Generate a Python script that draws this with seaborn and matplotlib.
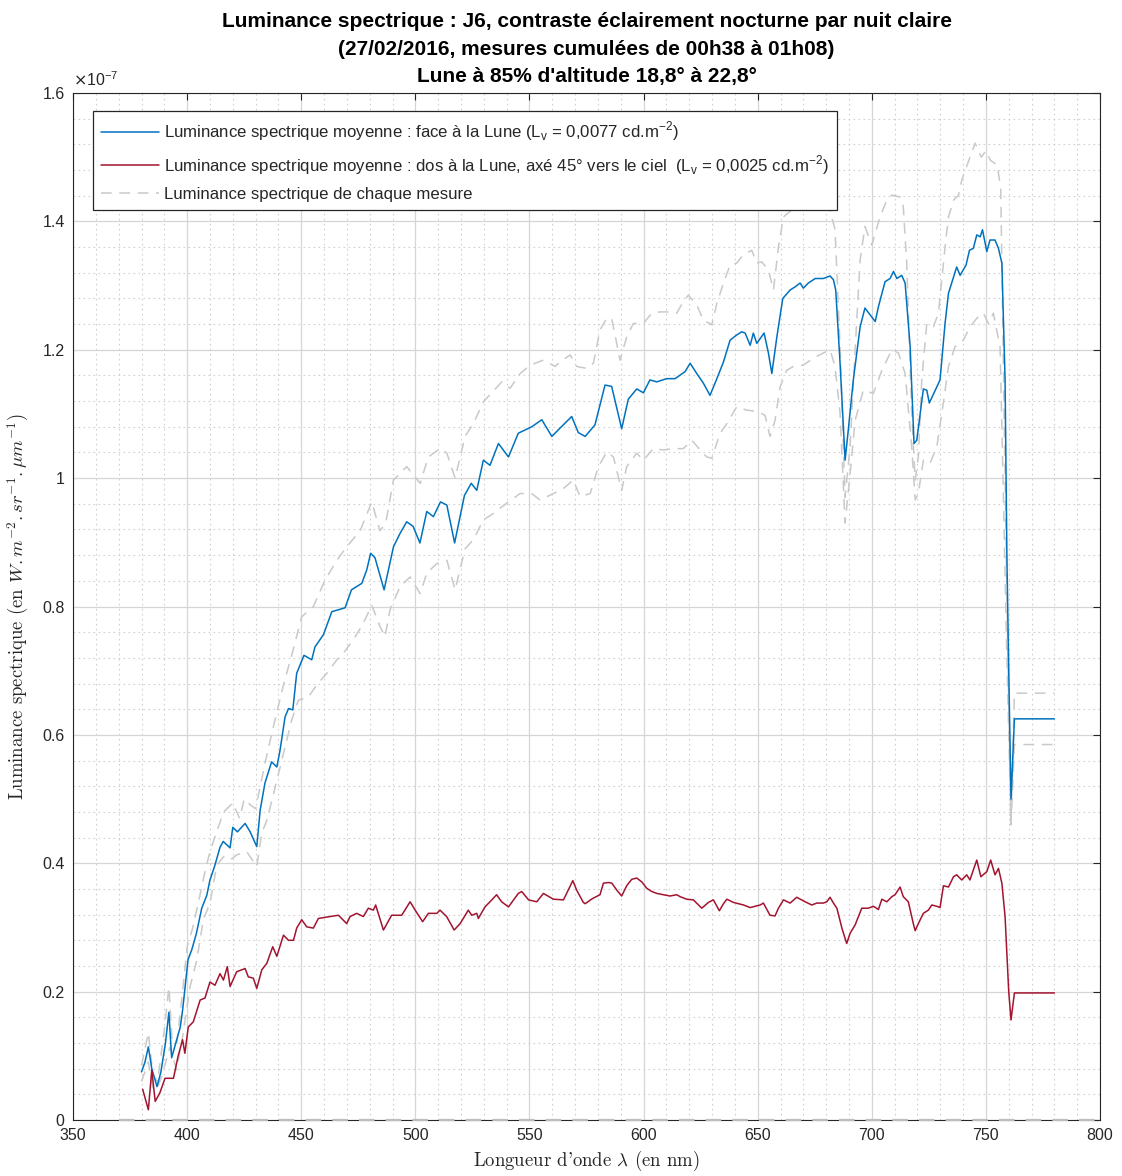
import numpy as np
import pandas as pd
import seaborn as sns
import matplotlib
matplotlib.use("Agg")
import matplotlib.pyplot as plt
from matplotlib.ticker import MultipleLocator, FuncFormatter
from matplotlib.lines import Line2D

SCALE = 1e-7  # values below are in units of 1e-7 W.m-2.sr-1.um-1

blue_x = [380, 381.5, 383, 384.5, 386.8, 388.5, 390.5, 392, 393.2, 395, 397, 398, 400.4, 402, 404, 406.4,
          408.6, 410, 412, 414.4, 415.8, 418.8, 420, 422, 425.4, 427.6, 430.5, 432, 434.1, 437, 439.3,
          440.7, 442.9, 444.4, 446.3, 448, 451.2, 454.6, 456, 459.7, 463.4, 466.3, 469.2, 472, 476.5,
          478.7, 480.4, 482.3, 486.3, 488.2, 490.4, 493.3, 496.2, 499, 502, 505, 507.9, 511, 513.8,
          517.2, 519, 521.5, 524.5, 526.9, 529.8, 532.7, 536.4, 540.8, 545.1, 551, 555.4, 559.8, 563.4,
          568.5, 571.4, 574.4, 578.7, 583.1, 586, 590.4, 593.3, 597, 599.9, 602.8, 605.8, 610.1, 613.8,
          618.2, 620.4, 623.3, 626.2, 629.1, 632, 635, 637.9, 640.8, 643, 644.5, 646.7, 648.1, 649.6,
          652.8, 654.7, 656.2, 658.4, 661, 664.2, 666.4, 668.6, 670, 672.2, 675.2, 678.8, 681.7, 683.2,
          684.2, 686.1, 688.3, 689.7, 691.9, 694.9, 697, 701.5, 702.9, 705.8, 708, 709.5, 711, 713.1,
          714.6, 716.8, 718.5, 719.7, 722.6, 724.1, 725.2, 729.9, 732.1, 733.6, 737.2, 738.7, 741.3,
          742.8, 744.5, 746, 747.5, 748.5, 750.4, 751.8, 754, 755.5, 757, 758.4, 759.2, 760, 761,
          762.5, 780]
blue_y = [0.075, 0.09, 0.114, 0.08, 0.052, 0.075, 0.12, 0.168, 0.097, 0.12, 0.145, 0.171, 0.25, 0.265,
          0.29, 0.33, 0.35, 0.374, 0.395, 0.425, 0.434, 0.424, 0.456, 0.449, 0.462, 0.449, 0.426, 0.483,
          0.525, 0.558, 0.55, 0.576, 0.628, 0.641, 0.639, 0.696, 0.724, 0.717, 0.737, 0.756, 0.792,
          0.795, 0.798, 0.826, 0.836, 0.857, 0.883, 0.876, 0.826, 0.857, 0.893, 0.914, 0.932, 0.925,
          0.899, 0.948, 0.940, 0.963, 0.958, 0.899, 0.93, 0.973, 0.992, 0.981, 1.028, 1.020, 1.054,
          1.033, 1.070, 1.080, 1.091, 1.065, 1.078, 1.096, 1.071, 1.065, 1.083, 1.145, 1.143, 1.077,
          1.123, 1.139, 1.133, 1.153, 1.150, 1.155, 1.155, 1.166, 1.179, 1.163, 1.148, 1.129, 1.154,
          1.181, 1.215, 1.223, 1.228, 1.226, 1.207, 1.226, 1.210, 1.226, 1.195, 1.163, 1.220, 1.280,
          1.293, 1.298, 1.304, 1.296, 1.304, 1.311, 1.311, 1.315, 1.309, 1.293, 1.179, 1.028, 1.075,
          1.153, 1.236, 1.265, 1.244, 1.267, 1.306, 1.311, 1.322, 1.311, 1.316, 1.304, 1.205, 1.054,
          1.059, 1.139, 1.137, 1.117, 1.153, 1.241, 1.288, 1.329, 1.316, 1.332, 1.355, 1.358, 1.379,
          1.376, 1.387, 1.353, 1.371, 1.371, 1.358, 1.335, 1.153, 0.878, 0.70, 0.50, 0.625, 0.625]

red_x = [380.5, 383, 384.5, 386, 388, 390.3, 394, 396, 398, 399, 400.5, 402.7, 405.7, 407.8, 410, 412.2,
         414.4, 415.9, 417.6, 418.8, 421.7, 425.4, 426.8, 429, 430.5, 432.7, 434.9, 437.5, 439.3, 442.2,
         444.4, 446.6, 448, 450.2, 452.4, 455.3, 457.5, 462.6, 466.3, 469.9, 471.4, 474.3, 477.2, 479.4,
         481.6, 482.6, 486, 489.6, 494, 497.7, 499.9, 503.2, 505.7, 509.4, 510.8, 513.7, 517, 519.6,
         521, 523.2, 524.7, 526.9, 527.6, 530.5, 532.7, 535.6, 537.8, 540.8, 545.1, 546.6, 549.6, 553.2,
         556.1, 560.5, 564.9, 569, 570.7, 573.6, 574.4, 577.6, 580.9, 582.4, 584.6, 586.1, 588.3, 590.4,
         592.6, 594.8, 597, 599.2, 601.4, 603.6, 605.8, 608.7, 611.6, 614.5, 616, 618.9, 621.8, 625.5,
         628.4, 630.6, 633.2, 635, 636.5, 639.4, 643.8, 646.7, 651.1, 652.5, 655.4, 657.6, 659.1, 661.3,
         664.2, 667.1, 670.8, 673.7, 675.9, 678.8, 680.3, 681.7, 683.2, 684.7, 686.9, 689, 690.5, 692.7,
         695.6, 698.5, 700.7, 702.9, 704.4, 706.6, 708.8, 710.2, 712.4, 713.8, 716, 718.2, 719, 720.4,
         722.6, 724.8, 726.3, 728.5, 729.9, 731.4, 733.6, 735.8, 737.2, 739.4, 741.6, 743, 746, 747.8,
         750.4, 752.1, 754, 755.5, 757, 758.4, 760, 761, 762.5, 780]
red_y = [0.048, 0.016, 0.078, 0.029, 0.042, 0.065, 0.065, 0.099, 0.125, 0.104, 0.145, 0.153, 0.187, 0.19,
         0.215, 0.21, 0.228, 0.218, 0.239, 0.208, 0.231, 0.236, 0.223, 0.221, 0.205, 0.234, 0.244, 0.27,
         0.255, 0.288, 0.28, 0.28, 0.299, 0.312, 0.301, 0.299, 0.314, 0.317, 0.319, 0.306, 0.317, 0.322,
         0.317, 0.33, 0.327, 0.335, 0.296, 0.319, 0.319, 0.340, 0.327, 0.309, 0.322, 0.322, 0.327, 0.317,
         0.296, 0.306, 0.314, 0.327, 0.319, 0.322, 0.314, 0.332, 0.340, 0.351, 0.340, 0.332, 0.353,
         0.356, 0.343, 0.340, 0.353, 0.344, 0.343, 0.373, 0.358, 0.339, 0.337, 0.345, 0.351, 0.369,
         0.370, 0.369, 0.358, 0.349, 0.365, 0.375, 0.377, 0.371, 0.361, 0.356, 0.353, 0.351, 0.349,
         0.351, 0.348, 0.344, 0.343, 0.330, 0.339, 0.343, 0.326, 0.337, 0.344, 0.339, 0.335, 0.331,
         0.335, 0.338, 0.319, 0.318, 0.330, 0.343, 0.338, 0.347, 0.340, 0.335, 0.338, 0.338, 0.340,
         0.347, 0.338, 0.330, 0.299, 0.275, 0.291, 0.304, 0.330, 0.330, 0.333, 0.328, 0.344, 0.340,
         0.348, 0.351, 0.363, 0.348, 0.340, 0.306, 0.295, 0.306, 0.322, 0.327, 0.335, 0.333, 0.331,
         0.365, 0.363, 0.379, 0.382, 0.374, 0.382, 0.374, 0.405, 0.379, 0.387, 0.405, 0.382, 0.392,
         0.369, 0.317, 0.20, 0.156, 0.198, 0.198]

upper_x = [380, 383, 385, 387, 390, 392, 393.5, 395.5, 398, 400, 402.5, 405, 408, 410, 413, 416, 420, 423,
           425, 428, 430, 432, 435, 437.6, 442, 446.4, 450.2, 455.3, 460.4, 465.6, 469.9, 475.8, 480.9,
           484.5, 487, 490.4, 496.2, 502.1, 505.7, 510.8, 513.8, 517.4, 521.8, 525.4, 529.8, 537.9,
           541.5, 545.9, 550.3, 556.1, 561.2, 563.4, 567.8, 570.7, 575.1, 578, 580.9, 583.9, 586, 589.7,
           592.6, 595.5, 599.9, 603.6, 607.2, 610.1, 614.5, 617.4, 619.6, 623.3, 626.2, 629.9, 632.1,
           635, 637.9, 640.8, 643.7, 647.4, 649.6, 651.8, 654.7, 656.9, 659.1, 661.3, 665.7, 670, 675,
           680, 683.9, 686.1, 688.3, 690.5, 692.7, 694.9, 697, 700, 703.6, 706.6, 708.8, 712.4, 713.8,
           715.3, 717.5, 719, 720.4, 721.9, 724.1, 727, 729.2, 732.1, 733.6, 735.8, 738, 739.4, 742,
           745.3, 748, 750, 752, 755, 756.5, 758, 759.5, 761, 762.5, 780]
upper_y = [0.085, 0.136, 0.07, 0.06, 0.14, 0.207, 0.12, 0.12, 0.2, 0.27, 0.3, 0.34, 0.39, 0.418, 0.45,
           0.48, 0.494, 0.47, 0.5, 0.49, 0.485, 0.52, 0.57, 0.61, 0.675, 0.732, 0.784, 0.80, 0.841, 0.872,
           0.893, 0.918, 0.963, 0.918, 0.93, 0.997, 1.018, 0.992, 1.033, 1.046, 1.039, 1.0, 1.065, 1.085,
           1.119, 1.150, 1.140, 1.163, 1.176, 1.184, 1.174, 1.181, 1.192, 1.174, 1.171, 1.179, 1.231,
           1.249, 1.249, 1.184, 1.22, 1.241, 1.241, 1.257, 1.259, 1.259, 1.257, 1.275, 1.285, 1.27,
           1.246, 1.239, 1.272, 1.304, 1.332, 1.335, 1.348, 1.355, 1.335, 1.337, 1.324, 1.293, 1.360,
           1.407, 1.42, 1.43, 1.44, 1.44, 1.387, 1.205, 0.97, 1.05, 1.2, 1.34, 1.392, 1.363, 1.407, 1.433,
           1.441, 1.438, 1.423, 1.335, 1.101, 0.997, 1.033, 1.153, 1.241, 1.236, 1.257, 1.36, 1.407,
           1.433, 1.441, 1.464, 1.49, 1.522, 1.50, 1.51, 1.495, 1.488, 1.45, 1.1, 0.75, 0.46, 0.665, 0.665]

lower_x = [380, 383, 385, 386.7, 389, 392.5, 395.4, 398, 401.3, 404.2, 407.1, 410, 413, 415.9, 418.8,
           421.7, 426.1, 430.5, 432.7, 434.9, 438, 442.2, 445.8, 448.7, 453.1, 456.8, 461.2, 465.6,
           468.4, 472.8, 477.2, 480.9, 484.5, 486.7, 488.9, 493.3, 497.7, 502.1, 505, 509.4, 513.8,
           517.4, 521.8, 525.4, 529.8, 534.2, 540, 545.9, 551, 554.6, 560.5, 564.9, 569.2, 572.2, 576.6,
           580.2, 583.9, 586.8, 590.4, 592.6, 597, 599.9, 604.3, 608.7, 613.1, 617.4, 621.1, 624.8,
           627.7, 629.9, 633.5, 636.5, 640.8, 645.2, 649.6, 653.2, 655.4, 657.6, 659.8, 662.7, 665.6,
           670, 674.4, 678.8, 681.7, 683.9, 686.1, 688.3, 690.5, 692.7, 696.3, 700.7, 704.4, 708.8,
           711.7, 714.6, 717.5, 719, 720.4, 722.6, 725.5, 728.5, 730.7, 733.6, 736.5, 740.1, 743.1,
           746, 748.9, 751.1, 753.3, 754.7, 756.2, 757.5, 759, 761, 762.5, 780]
lower_y = [0.06, 0.09, 0.05, 0.047, 0.07, 0.114, 0.078, 0.13, 0.208, 0.249, 0.312, 0.338, 0.397, 0.41,
           0.405, 0.413, 0.418, 0.395, 0.447, 0.467, 0.51, 0.571, 0.623, 0.654, 0.659, 0.678, 0.696,
           0.717, 0.727, 0.748, 0.774, 0.802, 0.769, 0.753, 0.795, 0.831, 0.846, 0.820, 0.852, 0.867,
           0.872, 0.826, 0.89, 0.904, 0.935, 0.945, 0.961, 0.976, 0.976, 0.966, 0.976, 0.984, 0.997,
           0.971, 0.976, 1.018, 1.041, 1.033, 0.981, 1.018, 1.039, 1.028, 1.046, 1.044, 1.046, 1.046,
           1.059, 1.044, 1.033, 1.031, 1.07, 1.085, 1.111, 1.106, 1.104, 1.098, 1.065, 1.09, 1.142,
           1.168, 1.174, 1.176, 1.187, 1.195, 1.2, 1.174, 1.101, 0.93, 1.007, 1.09, 1.137, 1.132, 1.168,
           1.2, 1.195, 1.163, 1.049, 0.966, 0.976, 1.028, 1.023, 1.049, 1.101, 1.174, 1.205, 1.215,
           1.236, 1.249, 1.257, 1.241, 1.257, 1.231, 1.205, 1.0, 0.75, 0.46, 0.585, 0.585]

zero_x = [370, 800]
zero_y = [0, 0]

title = ("Luminance spectrique : J6, contraste éclairement nocturne par nuit claire\n"
         "(27/02/2016, mesures cumulées de 00h38 à 01h08)\n"
         "Lune à 85% d'altitude 18,8° à 22,8°")
label_blue = r"Luminance spectrique moyenne : face à la Lune (L$_\mathregular{v}$ = 0,0077 cd.m$^\mathregular{-2}$)"
label_red = (r"Luminance spectrique moyenne : dos à la Lune, axé 45° vers le ciel  "
             r"(L$_\mathregular{v}$ = 0,0025 cd.m$^\mathregular{-2}$)")
label_gray = "Luminance spectrique de chaque mesure"

BLUE = "#0072BD"
RED = "#A2142F"
GRAY = "#c9c9c9"

sns.set_theme(style="white")
plt.rcParams["font.family"] = ["Liberation Sans", "DejaVu Sans"]
plt.rcParams["axes.unicode_minus"] = True

fig = plt.figure(figsize=(11.22, 11.76), dpi=100)
ax = fig.add_axes([0.0651, 0.0476, 0.9153, 0.8733])

def frame(x, y):
    return pd.DataFrame({"x": np.asarray(x, float), "y": np.asarray(y, float) * SCALE})

sns.lineplot(data=frame(zero_x, zero_y), x="x", y="y", ax=ax, color="#bdbdbd", lw=1.6,
             linestyle=(0, (7, 5)), estimator=None, sort=False, zorder=3, clip_on=False)
sns.lineplot(data=frame(upper_x, upper_y), x="x", y="y", ax=ax, color=GRAY, lw=1.1,
             linestyle=(0, (7, 5)), estimator=None, sort=False, zorder=2)
sns.lineplot(data=frame(lower_x, lower_y), x="x", y="y", ax=ax, color=GRAY, lw=1.1,
             linestyle=(0, (7, 5)), estimator=None, sort=False, zorder=2)
sns.lineplot(data=frame(blue_x, blue_y), x="x", y="y", ax=ax, color=BLUE, lw=1.1,
             estimator=None, sort=False, zorder=4)
sns.lineplot(data=frame(red_x, red_y), x="x", y="y", ax=ax, color=RED, lw=1.1,
             estimator=None, sort=False, zorder=4)

ax.set_xlim(350, 800)
ax.set_ylim(0, 1.6 * SCALE)
ax.xaxis.set_major_locator(MultipleLocator(50))
ax.xaxis.set_minor_locator(MultipleLocator(10))
ax.yaxis.set_major_locator(MultipleLocator(0.2 * SCALE))
ax.yaxis.set_minor_locator(MultipleLocator(0.04 * SCALE))
ax.yaxis.set_major_formatter(FuncFormatter(lambda v, p: f"{round(v / SCALE, 3):g}"))

ax.grid(which="major", color="#d6d6d6", lw=0.9, ls="-")
ax.grid(which="minor", color="#d0d0d0", lw=0.8, ls=(0, (1.5, 3)))
ax.set_axisbelow(True)

for s in ax.spines.values():
    s.set_visible(True)
    s.set_color("#262626")
    s.set_linewidth(0.8)
ax.tick_params(which="major", direction="in", length=5, width=0.8, color="#262626",
               top=True, right=True, labelsize=11.5, labelcolor="#262626", pad=6)
ax.tick_params(which="minor", length=0)

ax.set_xlabel(r"Longueur d'onde $\lambda$ (en nm)", fontfamily="cmr10", math_fontfamily="cm",
              fontsize=13.5, color="#262626", labelpad=4)
ax.set_ylabel(r"Luminance spectrique (en $W.m^{-2}.sr^{-1}.\mu m^{-1}$)", fontfamily="cmr10",
              math_fontfamily="cm", fontsize=13.5, color="#262626", labelpad=8)
ax.set_title(title, fontsize=15, fontweight="bold", pad=8, linespacing=1.56, color="#000000")

ax.text(0.0, 1.004, r"$\times\mathregular{10^{-7}}$", transform=ax.transAxes, ha="left",
        va="bottom", fontsize=11.5, color="#262626")

handles = [Line2D([], [], color=BLUE, lw=1.1),
           Line2D([], [], color=RED, lw=1.1),
           Line2D([], [], color=GRAY, lw=1.1, linestyle=(0, (7, 5)))]
leg = ax.legend(handles, [label_blue, label_red, label_gray], loc="upper left",
                bbox_to_anchor=(0.0195, 0.9825), fontsize=12.05, frameon=True, fancybox=False,
                framealpha=1, edgecolor="#262626", handlelength=3.45, handletextpad=0.3,
                labelspacing=0.6, borderpad=0.5, borderaxespad=0)
leg.get_frame().set_linewidth(0.9)
leg.set_zorder(6)

fig.savefig("out.png", dpi=100)
